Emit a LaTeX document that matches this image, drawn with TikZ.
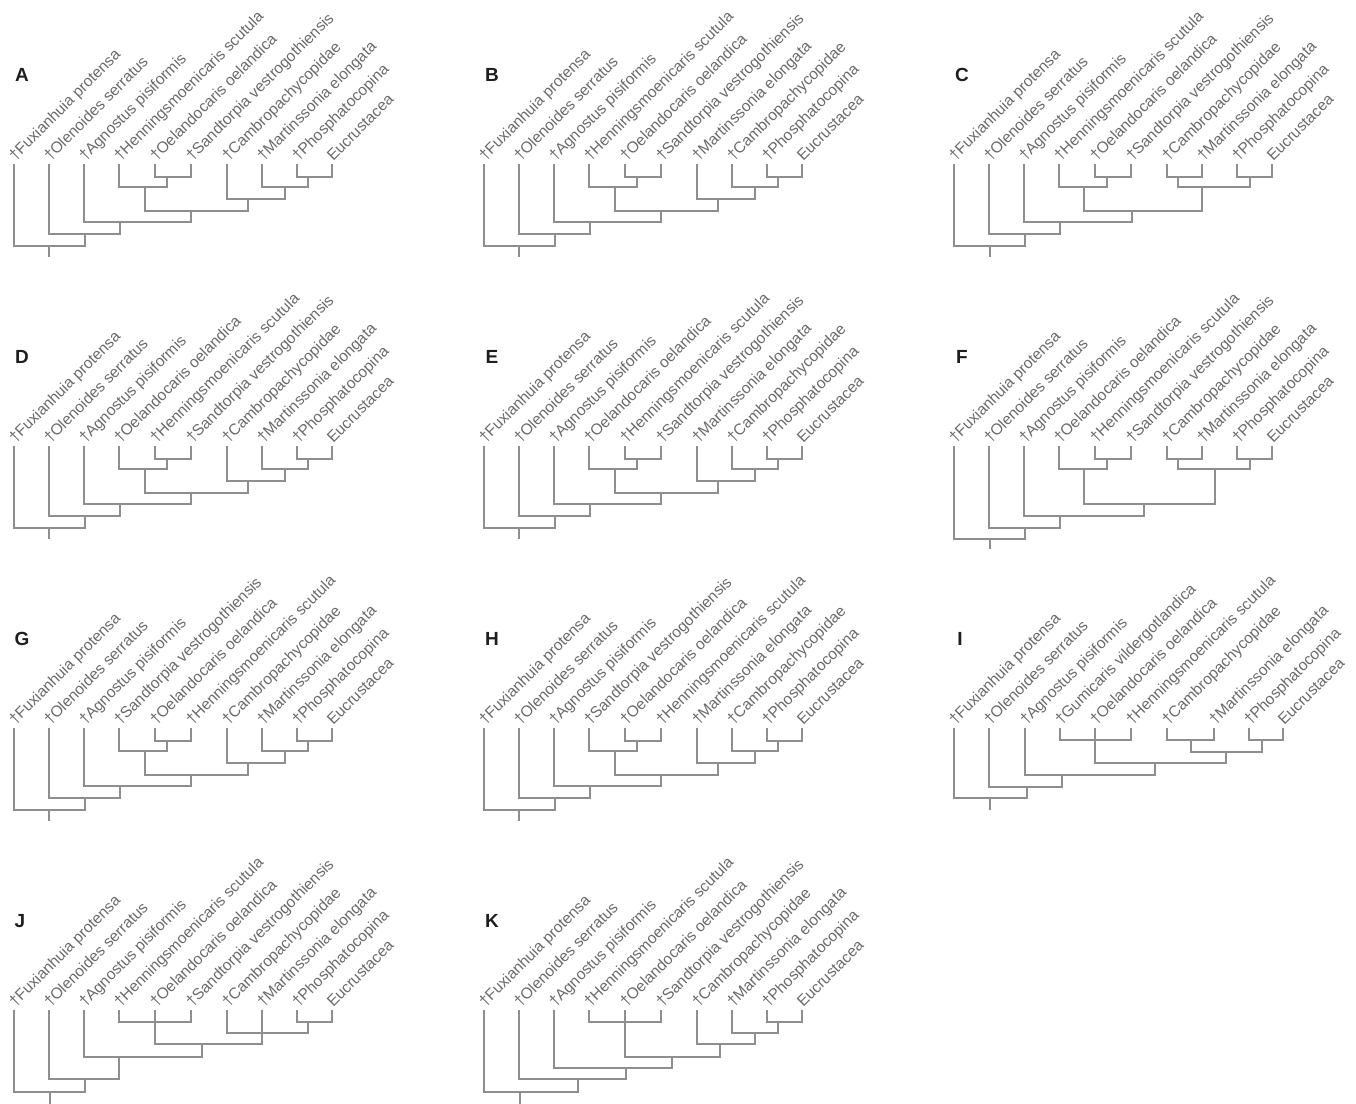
\documentclass[tikz,border=0pt]{standalone}
\usepackage{fontspec}
\setmainfont{Liberation Sans}
\usetikzlibrary{calc}

% taxon names
\newcommand{\txFux}{†Fuxianhuia protensa}
\newcommand{\txOle}{†Olenoides serratus}
\newcommand{\txAgn}{†Agnostus pisiformis}
\newcommand{\txHen}{†Henningsmoenicaris scutula}
\newcommand{\txOel}{†Oelandocaris oelandica}
\newcommand{\txSan}{†Sandtorpia vestrogothiensis}
\newcommand{\txCam}{†Cambropachycopidae}
\newcommand{\txMar}{†Martinssonia elongata}
\newcommand{\txPho}{†Phosphatocopina}
\newcommand{\txEuc}{Eucrustacea}
\newcommand{\txGum}{†Gumicaris vildergotlandica}

% the common pectinate shape: ((4,(5,6)),(7,(8,(9,10))))
\newcommand{\pectinate}[1]{%
  \coordinate (#1n1) at (167,177);
  \coordinate (#1n2) at (145,187);
  \coordinate (#1n3) at (308,177);
  \coordinate (#1n4) at (285,187);
  \coordinate (#1n5) at (248,199);
  \coordinate (#1n6) at (191,211);
  \coordinate (#1n7) at (120,222);
  \coordinate (#1n8) at (85,234);
  \coordinate (#1n9) at (49,246);
  \coordinate (#1r) at (49,257);
  \draw[branch] (#15) |- (#1n1) -| (#16);
  \draw[branch] (#14) |- (#1n2) -| (#1n1);
  \draw[branch] (#19) |- (#1n3) -| (#110);
  \draw[branch] (#18) |- (#1n4) -| (#1n3);
  \draw[branch] (#17) |- (#1n5) -| (#1n4);
  \draw[branch] (#1n2) |- (#1n6) -| (#1n5);
  \draw[branch] (#13) |- (#1n7) -| (#1n6);
  \draw[branch] (#12) |- (#1n8) -| (#1n7);
  \draw[branch] (#11) |- (#1n9) -| (#1n8);
  \draw[branch] (#1n9) -- (#1r);
}

\begin{document}
\begin{tikzpicture}[x=0.5pt, y=-0.5pt,
    branch/.style={draw=branchGray, line width=0.6pt},
    taxon/.style={rotate=45, anchor=base west, inner sep=0pt, text=labelGray, font=\fontsize{7.8}{9}\selectfont},
    panel/.style={font=\fontsize{9.5}{10}\selectfont\bfseries, text=letterGray}]
    % Color Palette
    \definecolor{branchGray}{HTML}{8E8E8E}
    \definecolor{labelGray}{HTML}{6A6A6A}
    \definecolor{letterGray}{HTML}{1E1E1E}

    \useasboundingbox (0,0) rectangle (1356,1104);

    % --- Panel A ---
    \begin{scope}[shift={(0,0)}]
        \node[panel] (labA) at (22,75) {A};
        \foreach \x/\t [count=\i] in {14/\txFux, 49/\txOle, 84/\txAgn, 119/\txHen, 155/\txOel, 191/\txSan, 227/\txCam, 262/\txMar, 297/\txPho, 332/\txEuc} {
            \coordinate (A\i) at (\x,164);
            \node[taxon] (A\i-t) at ($(\x,162)+(1,0)$) {\t};
        }
        \pectinate{A}
    \end{scope}

    % --- Panel B ---
    \begin{scope}[shift={(470,0)}]
        \node[panel] (labB) at (22,75) {B};
        \foreach \x/\t [count=\i] in {14/\txFux, 49/\txOle, 84/\txAgn, 119/\txHen, 155/\txOel, 191/\txSan, 227/\txMar, 262/\txCam, 297/\txPho, 332/\txEuc} {
            \coordinate (B\i) at (\x,164);
            \node[taxon] (B\i-t) at ($(\x,162)+(1,0)$) {\t};
        }
        \pectinate{B}
    \end{scope}

    % --- Panel C ---
    \begin{scope}[shift={(940,0)}]
        \node[panel] (labC) at (22,75) {C};
        \foreach \x/\t [count=\i] in {14/\txFux, 49/\txOle, 84/\txAgn, 119/\txHen, 155/\txOel, 191/\txSan, 227/\txCam, 262/\txMar, 297/\txPho, 332/\txEuc} {
            \coordinate (C\i) at (\x,164);
            \node[taxon] (C\i-t) at ($(\x,162)+(1,0)$) {\t};
        }
        \coordinate (Cn1) at (167,177);
        \coordinate (Cn2) at (144,187);
        \coordinate (Cn3) at (238,177);
        \coordinate (Cn4) at (310,177);
        \coordinate (Cn5) at (262,187);
        \coordinate (Cn6) at (192,211);
        \coordinate (Cn7) at (120,222);
        \coordinate (Cn8) at (85,234);
        \coordinate (Cn9) at (50,246);
        \coordinate (Cr) at (50,257);
        \draw[branch] (C5) |- (Cn1) -| (C6);
        \draw[branch] (C4) |- (Cn2) -| (Cn1);
        \draw[branch] (C7) |- (Cn3) -| (C8);
        \draw[branch] (C9) |- (Cn4) -| (C10);
        \draw[branch] (Cn3) |- (Cn5) -| (Cn4);
        \draw[branch] (Cn2) |- (Cn6) -| (Cn5);
        \draw[branch] (C3) |- (Cn7) -| (Cn6);
        \draw[branch] (C2) |- (Cn8) -| (Cn7);
        \draw[branch] (C1) |- (Cn9) -| (Cn8);
        \draw[branch] (Cn9) -- (Cr);
    \end{scope}

    % --- Panel D ---
    \begin{scope}[shift={(0,282)}]
        \node[panel] (labD) at (22,75) {D};
        \foreach \x/\t [count=\i] in {14/\txFux, 49/\txOle, 84/\txAgn, 119/\txOel, 155/\txHen, 191/\txSan, 227/\txCam, 262/\txMar, 297/\txPho, 332/\txEuc} {
            \coordinate (D\i) at (\x,164);
            \node[taxon] (D\i-t) at ($(\x,162)+(1,0)$) {\t};
        }
        \pectinate{D}
    \end{scope}

    % --- Panel E ---
    \begin{scope}[shift={(470,282)}]
        \node[panel] (labE) at (22,75) {E};
        \foreach \x/\t [count=\i] in {14/\txFux, 49/\txOle, 84/\txAgn, 119/\txOel, 155/\txHen, 191/\txSan, 227/\txMar, 262/\txCam, 297/\txPho, 332/\txEuc} {
            \coordinate (E\i) at (\x,164);
            \node[taxon] (E\i-t) at ($(\x,162)+(1,0)$) {\t};
        }
        \pectinate{E}
    \end{scope}

    % --- Panel F ---
    \begin{scope}[shift={(940,282)}]
        \node[panel] (labF) at (22,75) {F};
        \foreach \x/\t [count=\i] in {14/\txFux, 49/\txOle, 84/\txAgn, 119/\txOel, 155/\txHen, 191/\txSan, 227/\txCam, 262/\txMar, 297/\txPho, 332/\txEuc} {
            \coordinate (F\i) at (\x,164);
            \node[taxon] (F\i-t) at ($(\x,162)+(1,0)$) {\t};
        }
        \coordinate (Fn1) at (167,177);
        \coordinate (Fn2) at (144,187);
        \coordinate (Fn3) at (238,177);
        \coordinate (Fn4) at (310,177);
        \coordinate (Fn5) at (275,187);
        \coordinate (Fn6) at (204,222);
        \coordinate (Fn7) at (120,234);
        \coordinate (Fn8) at (85,246);
        \coordinate (Fn9) at (50,257);
        \coordinate (Fr) at (50,267);
        \draw[branch] (F5) |- (Fn1) -| (F6);
        \draw[branch] (F4) |- (Fn2) -| (Fn1);
        \draw[branch] (F7) |- (Fn3) -| (F8);
        \draw[branch] (F9) |- (Fn4) -| (F10);
        \draw[branch] (Fn3) |- (Fn5) -| (Fn4);
        \draw[branch] (Fn2) |- (Fn6) -| (Fn5);
        \draw[branch] (F3) |- (Fn7) -| (Fn6);
        \draw[branch] (F2) |- (Fn8) -| (Fn7);
        \draw[branch] (F1) |- (Fn9) -| (Fn8);
        \draw[branch] (Fn9) -- (Fr);
    \end{scope}

    % --- Panel G ---
    \begin{scope}[shift={(0,564)}]
        \node[panel] (labG) at (22,75) {G};
        \foreach \x/\t [count=\i] in {14/\txFux, 49/\txOle, 84/\txAgn, 119/\txSan, 155/\txOel, 191/\txHen, 227/\txCam, 262/\txMar, 297/\txPho, 332/\txEuc} {
            \coordinate (G\i) at (\x,164);
            \node[taxon] (G\i-t) at ($(\x,162)+(1,0)$) {\t};
        }
        \pectinate{G}
    \end{scope}

    % --- Panel H ---
    \begin{scope}[shift={(470,564)}]
        \node[panel] (labH) at (22,75) {H};
        \foreach \x/\t [count=\i] in {14/\txFux, 49/\txOle, 84/\txAgn, 119/\txSan, 155/\txOel, 191/\txHen, 227/\txMar, 262/\txCam, 297/\txPho, 332/\txEuc} {
            \coordinate (H\i) at (\x,164);
            \node[taxon] (H\i-t) at ($(\x,162)+(1,0)$) {\t};
        }
        \pectinate{H}
    \end{scope}

    % --- Panel I ---
    \begin{scope}[shift={(940,564)}]
        \node[panel] (labI) at (20,75) {I};
        \foreach \x/\t [count=\i] in {14/\txFux, 49/\txOle, 85/\txAgn, 120/\txGum, 155/\txOel, 191/\txHen, 227/\txCam, 274/\txMar, 309/\txPho, 343/\txEuc} {
            \coordinate (I\i) at (\x,164);
            \node[taxon] (I\i-t) at ($(\x,162)+(1,0)$) {\t};
        }
        \coordinate (Ip) at (155,176);
        \coordinate (In3) at (251,176);
        \coordinate (In4) at (322,176);
        \coordinate (In5) at (286,188);
        \coordinate (In6) at (215,199);
        \coordinate (In7) at (122,211);
        \coordinate (In8) at (87,223);
        \coordinate (In9) at (50,234);
        \coordinate (Ir) at (50,246);
        \draw[branch] (I4) |- (Ip) -| (I6);
        \draw[branch] (I5) -- (Ip);
        \draw[branch] (I7) |- (In3) -| (I8);
        \draw[branch] (I9) |- (In4) -| (I10);
        \draw[branch] (In3) |- (In5) -| (In4);
        \draw[branch] (Ip) |- (In6) -| (In5);
        \draw[branch] (I3) |- (In7) -| (In6);
        \draw[branch] (I2) |- (In8) -| (In7);
        \draw[branch] (I1) |- (In9) -| (In8);
        \draw[branch] (In9) -- (Ir);
    \end{scope}

    % --- Panel J ---
    \begin{scope}[shift={(0,846)}]
        \node[panel] (labJ) at (20,75) {J};
        \foreach \x/\t [count=\i] in {14/\txFux, 49/\txOle, 84/\txAgn, 119/\txHen, 155/\txOel, 191/\txSan, 227/\txCam, 262/\txMar, 297/\txPho, 332/\txEuc} {
            \coordinate (J\i) at (\x,164);
            \node[taxon] (J\i-t) at ($(\x,162)+(1,0)$) {\t};
        }
        \coordinate (Jp) at (155,176);
        \coordinate (Jn3) at (308,176);
        \coordinate (Jq) at (262,187);
        \coordinate (Jn6) at (202,198);
        \coordinate (Jn7) at (119,211);
        \coordinate (Jn8) at (85,233);
        \coordinate (Jn9) at (50,246);
        \coordinate (Jr) at (50,258);
        \draw[branch] (J4) |- (Jp) -| (J6);
        \draw[branch] (J5) -- (Jp);
        \draw[branch] (J9) |- (Jn3) -| (J10);
        \draw[branch] (J7) |- (Jq) -| (Jn3);
        \draw[branch] (J8) -- (Jq);
        \draw[branch] (Jp) |- (Jn6) -| (Jq);
        \draw[branch] (J3) |- (Jn7) -| (Jn6);
        \draw[branch] (J2) |- (Jn8) -| (Jn7);
        \draw[branch] (J1) |- (Jn9) -| (Jn8);
        \draw[branch] (Jn9) -- (Jr);
    \end{scope}

    % --- Panel K ---
    \begin{scope}[shift={(470,846)}]
        \node[panel] (labK) at (22,75) {K};
        \foreach \x/\t [count=\i] in {14/\txFux, 49/\txOle, 84/\txAgn, 119/\txHen, 155/\txOel, 191/\txSan, 227/\txCam, 262/\txMar, 297/\txPho, 332/\txEuc} {
            \coordinate (K\i) at (\x,164);
            \node[taxon] (K\i-t) at ($(\x,162)+(1,0)$) {\t};
        }
        \coordinate (Kp) at (155,176);
        \coordinate (Kn3) at (308,176);
        \coordinate (Kn4) at (285,187);
        \coordinate (Kn5) at (250,198);
        \coordinate (Kn6) at (202,211);
        \coordinate (Kn7) at (156,222);
        \coordinate (Kn8) at (108,233);
        \coordinate (Kn9) at (50,246);
        \coordinate (Kr) at (50,258);
        \draw[branch] (K4) |- (Kp) -| (K6);
        \draw[branch] (K5) -- (Kp);
        \draw[branch] (K9) |- (Kn3) -| (K10);
        \draw[branch] (K8) |- (Kn4) -| (Kn3);
        \draw[branch] (K7) |- (Kn5) -| (Kn4);
        \draw[branch] (Kp) |- (Kn6) -| (Kn5);
        \draw[branch] (K3) |- (Kn7) -| (Kn6);
        \draw[branch] (K2) |- (Kn8) -| (Kn7);
        \draw[branch] (K1) |- (Kn9) -| (Kn8);
        \draw[branch] (Kn9) -- (Kr);
    \end{scope}

\end{tikzpicture}
\end{document}
